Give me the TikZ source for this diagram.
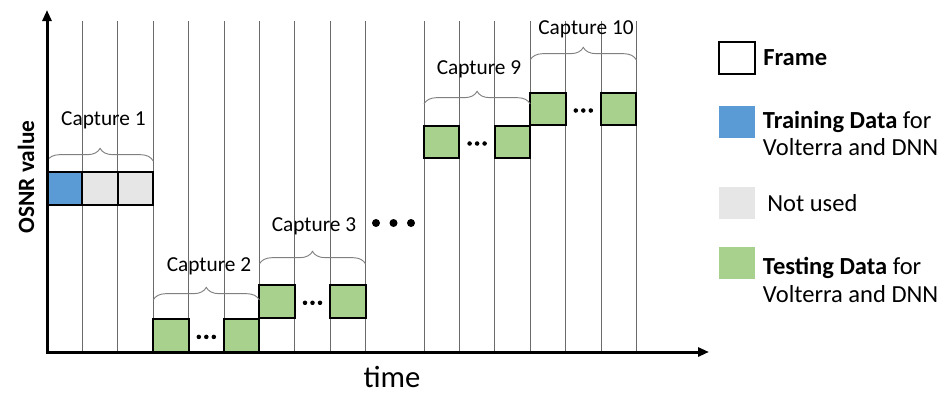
\documentclass[tikz,border=0pt]{standalone}
\usepackage{fontspec}
\setmainfont{Carlito}
\usetikzlibrary{arrows.meta,decorations.pathreplacing}

\definecolor{traincol}{HTML}{5B9BD5}
\definecolor{unusedcol}{HTML}{E7E6E6}
\definecolor{testcol}{HTML}{A9D18E}
\definecolor{gridcol}{HTML}{6A6A6A}
\definecolor{bracecol}{HTML}{808080}

\tikzset{
    frmbox/.style={draw=black, line width=1.5pt, minimum width=26.55pt, minimum height=24.3pt,
        inner sep=0pt, outer sep=0pt, anchor=north west},
    swatch/.style={minimum width=27pt, minimum height=24pt, inner sep=0pt, outer sep=0pt, anchor=north west},
    gridline/.style={draw=gridcol, line width=0.75pt},
    capbrace/.style={draw=bracecol, line width=0.7pt, decorate, decoration={brace, amplitude=9.5pt}},
    caplabel/.style={font=\fontsize{16}{19}\selectfont, anchor=base, inner sep=0pt},
    legtext/.style={font=\fontsize{18.4}{20.8}\selectfont, align=left, inner sep=0pt},
}

\begin{document}
\begin{tikzpicture}[x=0.75pt, y=-0.75pt]
        \useasboundingbox (0,0) rectangle (947,394);

        % Frame grid
        \foreach \k in {1,...,9}
            \draw[gridline] (47+35.4*\k,21) -- (47+35.4*\k,352);
        \foreach \k in {0,...,6}
            \draw[gridline] (424+35.4*\k,21) -- (424+35.4*\k,352);

        % Capture 1
        \node[frmbox, fill=traincol] (c1a) at (47,172.3) {};
        \node[frmbox, fill=unusedcol] (c1b) at (82.4,172.3) {};
        \node[frmbox, fill=unusedcol] (c1c) at (117.8,172.3) {};
        \draw[capbrace] (47,161) -- (153.2,161);
        \node[caplabel] (cap1) at (103.4,125.7) {Capture 1};

        % Captures 2, 3, 9 and 10
        \foreach \name/\x/\y in {c2/153.2/319.4, c3/259.4/285.3, c9/424/126, c10/530.2/93} {
            \node[frmbox, fill=testcol] (\name a) at (\x,\y) {};
            \node[frmbox, fill=testcol] (\name b) at (\x+70.8,\y) {};
            \foreach \d in {-7.5,0,7.5}
                \fill (\x+53.1+\d,\y+17.5) circle (1.7pt);
        }
        \draw[capbrace] (153.2,300) -- (259.4,300);
        \node[caplabel] (cap2) at (209,271.7) {Capture 2};
        \draw[capbrace] (259.4,264) -- (365.6,264);
        \node[caplabel] (cap3) at (314,231.7) {Capture 3};
        \draw[capbrace] (424,104) -- (530.2,104);
        \node[caplabel] (cap9) at (479,74) {Capture 9};
        \draw[capbrace] (530.2,60) -- (636.4,60);
        \node[caplabel] (cap10) at (586,34) {Capture 10};

        % Skipped captures
        \foreach \x in {376,393.5,411}
            \fill (\x,223) circle (3pt);

        % Axes
        \draw[line width=2.25pt, -{Triangle[length=8.25pt,width=6.75pt]}] (47,353) -- (47,10);
        \draw[line width=2.25pt, -{Triangle[length=8.25pt,width=6.75pt]}] (46,352) -- (709,352);
        \node[font=\fontsize{23}{27}\selectfont, anchor=base, inner sep=0pt] (xlabel) at (392,387.5) {time};
        \node[font=\fontsize{17.5}{21}\selectfont\bfseries, rotate=90, inner sep=0pt] (ylabel) at (26,177) {OSNR value};

        % Legend
        \node[frmbox, fill=white, minimum width=27pt] (legframe) at (719.3,41.7) {};
        \node[legtext, anchor=base west] at (763,65) {\textbf{Frame}};
        \node[swatch, fill=traincol] (legtrain) at (719.3,105.7) {};
        \node[legtext, anchor=west] at (762.7,133.5) {\textbf{Training Data} for\\Volterra and DNN};
        \node[swatch, fill=unusedcol] (legunused) at (719.3,186.7) {};
        \node[legtext, anchor=base west] at (767,211.7) {Not used};
        \node[swatch, fill=testcol] (legtest) at (719.3,247) {};
        \node[legtext, anchor=west] at (762.7,279.8) {\textbf{Testing Data} for\\Volterra and DNN};
\end{tikzpicture}
\end{document}
